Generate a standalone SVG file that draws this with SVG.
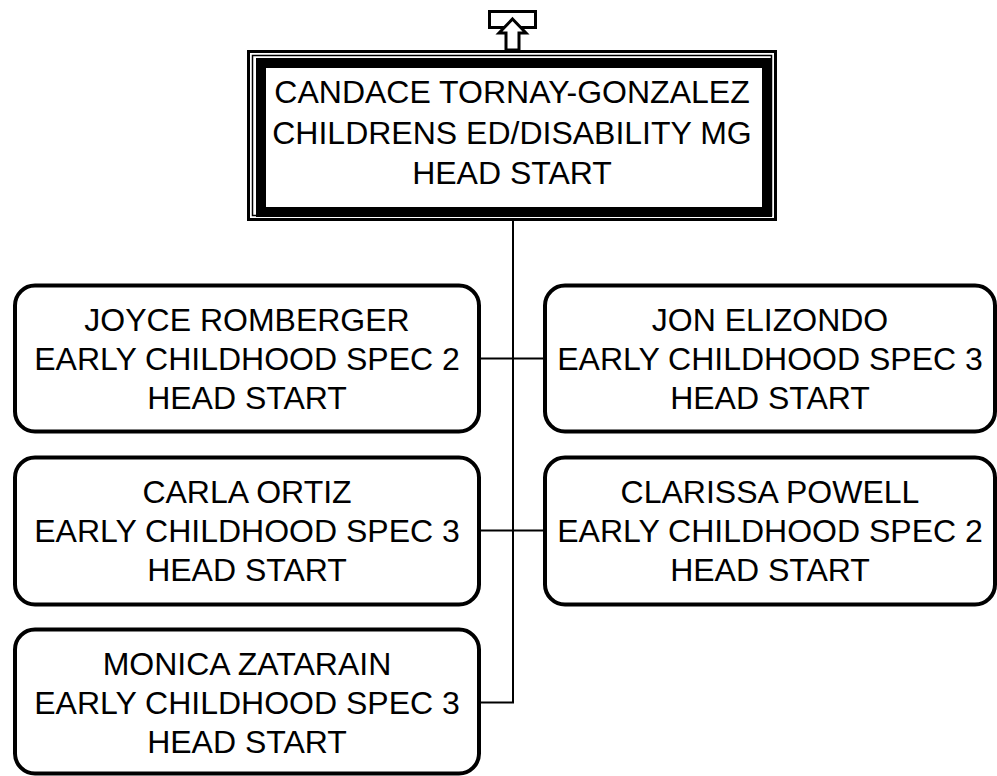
<svg xmlns="http://www.w3.org/2000/svg" width="997" height="776" viewBox="0 0 997 776">
<style>
.t{font-family:"Liberation Sans",Arial,sans-serif;font-size:32px;fill:#000;text-anchor:middle}
.box{fill:#fff;stroke:#000;stroke-width:4}
.ln{fill:none;stroke:#000;stroke-width:2}
</style>
<rect width="997" height="776" fill="#fff"/>
<g id="connectors">
<path class="ln" d="M513 221V703M481 358.5H545M481 530.5H545M481 702.5H514"/>
</g>
<g id="root">
<rect x="248.5" y="51.5" width="527" height="168" fill="#fff" stroke="#000" stroke-width="3"/>
<rect x="252.5" y="55.5" width="519" height="160" fill="none" stroke="#000" stroke-width="1.5"/>
<rect x="261" y="63" width="506" height="149" fill="#fff" stroke="#000" stroke-width="10"/>
<text class="t" x="512" y="103">CANDACE TORNAY-GONZALEZ</text>
<text class="t" x="512" y="144">CHILDRENS ED/DISABILITY MG</text>
<text class="t" x="512" y="184">HEAD START</text>
</g>
<g id="up-icon">
<rect x="489.5" y="11.5" width="46" height="16" fill="#fff" stroke="#000" stroke-width="3"/>
<path d="M512.5 19L526 33H519V50H506V33H499Z" fill="#fff" stroke="#000" stroke-width="3" stroke-linejoin="miter"/>
</g>
<g id="joyce">
<rect class="box" x="15" y="285.5" width="464" height="146" rx="20"/>
<text class="t" x="247" y="331">JOYCE ROMBERGER</text>
<text class="t" x="247" y="370">EARLY CHILDHOOD SPEC 2</text>
<text class="t" x="247" y="409">HEAD START</text>
</g>
<g id="jon">
<rect class="box" x="545" y="285.5" width="450" height="146" rx="20"/>
<text class="t" x="770" y="331">JON ELIZONDO</text>
<text class="t" x="770" y="370">EARLY CHILDHOOD SPEC 3</text>
<text class="t" x="770" y="409">HEAD START</text>
</g>
<g id="carla">
<rect class="box" x="15" y="457.5" width="464" height="147" rx="20"/>
<text class="t" x="247" y="503">CARLA ORTIZ</text>
<text class="t" x="247" y="542">EARLY CHILDHOOD SPEC 3</text>
<text class="t" x="247" y="581">HEAD START</text>
</g>
<g id="clarissa">
<rect class="box" x="545" y="457.5" width="450" height="147" rx="20"/>
<text class="t" x="770" y="503">CLARISSA POWELL</text>
<text class="t" x="770" y="542">EARLY CHILDHOOD SPEC 2</text>
<text class="t" x="770" y="581">HEAD START</text>
</g>
<g id="monica">
<rect class="box" x="15" y="629.5" width="464" height="144" rx="20"/>
<text class="t" x="247" y="675">MONICA ZATARAIN</text>
<text class="t" x="247" y="714">EARLY CHILDHOOD SPEC 3</text>
<text class="t" x="247" y="753">HEAD START</text>
</g>
</svg>
